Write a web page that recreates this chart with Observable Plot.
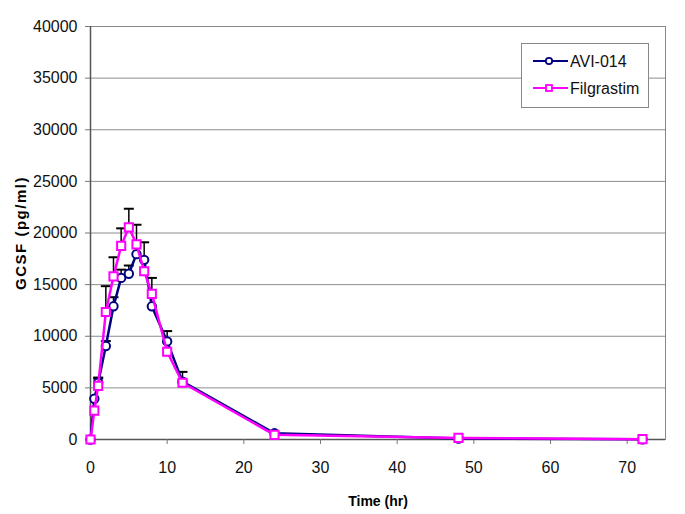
<!DOCTYPE html>
<html>
<head>
<meta charset="utf-8">
<script src="https://cdn.jsdelivr.net/npm/d3@7"></script>
<script src="https://cdn.jsdelivr.net/npm/@observablehq/plot@0.6"></script>
<style>
  body { margin: 0; background: #fff; }
  #chart svg { font-family: "Liberation Sans", Arial, sans-serif; }
  g[aria-label="x-axis label"] text { font-weight: bold; font-size: 14px; fill: #000; }
  g[aria-label="y-axis label"] text { font-weight: bold; font-size: 15px; letter-spacing: 1.5px; fill: #000; }
</style>
</head>
<body>
<div id="chart"></div>
<script>
const times = [0, 0.5, 1, 2, 3, 4, 5, 6, 7, 8, 10, 12, 24, 48, 72];
const avi014 = [0, 3950, 5500, 9050, 12900, 15650, 16050, 17950, 17400, 12900, 9500, 5600, 600, 100, 20];
const avi014Err = [0, 0, 500, 480, 880, 800, 800, 0, 1700, 0, 1000, 950, 0, 0, 0];
const filgrastim = [0, 2800, 5200, 12350, 15800, 18750, 20550, 18900, 16300, 14100, 8500, 5500, 450, 150, 30];
const filgrastimErr = [0, 0, 700, 2500, 1850, 1700, 1800, 1900, 0, 1550, 0, 0, 0, 0, 0];
const yTicks = [0, 5000, 10000, 15000, 20000, 25000, 30000, 35000, 40000];
const xTicks = [0, 10, 20, 30, 40, 50, 60, 70];
const seriesNames = ["AVI-014", "Filgrastim"];
const seriesColors = ["#000080", "#FF00FF"];

const aviData = times.map((t, i) => ({t, v: avi014[i], e: avi014Err[i]}));
const filData = times.map((t, i) => ({t, v: filgrastim[i], e: filgrastimErr[i]}));
const errData = [...aviData, ...filData].filter(d => d.e > 0);

const capSymbol = {
  draw(ctx, size) {
    const w = 5;
    ctx.moveTo(-w, 0);
    ctx.lineTo(w, 0);
  }
};

const chart = Plot.plot({
  width: 685,
  height: 514,
  marginLeft: 90,
  marginRight: 20,
  marginTop: 26,
  marginBottom: 75,
  style: {fontSize: "16px", fontFamily: "Liberation Sans, Arial, sans-serif", color: "#111"},
  x: {domain: [0, 75]},
  y: {domain: [0, 40000]},
  marks: [
    Plot.ruleY(yTicks.filter(d => d > 0), {stroke: "#8c8c8c", strokeWidth: 1}),
    Plot.frame({stroke: "#888", strokeWidth: 1}),
    Plot.ruleX([0], {stroke: "#555", strokeWidth: 1.5}),
    Plot.ruleY([0], {stroke: "#555", strokeWidth: 1.5}),
    Plot.axisX({ticks: xTicks, tickSize: 5, tickPadding: 17, stroke: "#777",
      label: "Time (hr)", labelAnchor: "center", labelArrow: "none", labelOffset: 66}),
    Plot.axisY({ticks: yTicks, tickSize: 5, tickPadding: 8, stroke: "#777", tickFormat: d => String(d),
      label: "GCSF (pg/ml)", labelAnchor: "center", labelArrow: "none", labelOffset: 75}),
    Plot.ruleX(errData, {x: "t", y1: "v", y2: d => d.v + d.e, stroke: "#000", strokeWidth: 1.5}),
    Plot.dot(errData, {x: "t", y: d => d.v + d.e, symbol: capSymbol, r: 5, stroke: "#000", strokeWidth: 2, fill: "none"}),
    Plot.line(aviData, {x: "t", y: "v", stroke: seriesColors[0], strokeWidth: 2.5}),
    Plot.dot(aviData, {x: "t", y: "v", symbol: "circle", r: 4.2, stroke: seriesColors[0], strokeWidth: 2, fill: "#fff"}),
    Plot.line(filData, {x: "t", y: "v", stroke: seriesColors[1], strokeWidth: 2.5}),
    Plot.dot(filData, {x: "t", y: "v", symbol: "square", r: 4.6, stroke: seriesColors[1], strokeWidth: 2, fill: "#fff"})
  ]
});

document.getElementById("chart").appendChild(chart);

// legend box inside the plot area
const svg = d3.select(chart);
const lg = svg.append("g").attr("class", "legend").attr("text-anchor", "start");
lg.append("rect").attr("x", 521.5).attr("y", 43.5).attr("width", 127).attr("height", 64)
  .attr("fill", "#fff").attr("stroke", "#888").attr("stroke-width", 1);
seriesNames.forEach((name, i) => {
  const cy = 61 + i * 27;
  lg.append("line").attr("x1", 533).attr("x2", 568).attr("y1", cy).attr("y2", cy)
    .attr("stroke", seriesColors[i]).attr("stroke-width", 2);
  if (i === 0) {
    lg.append("circle").attr("cx", 549).attr("cy", cy).attr("r", 3.2)
      .attr("fill", "#fff").attr("stroke", seriesColors[i]).attr("stroke-width", 1.8);
  } else {
    lg.append("rect").attr("x", 546).attr("y", cy - 3).attr("width", 6).attr("height", 6)
      .attr("fill", "#fff").attr("stroke", seriesColors[i]).attr("stroke-width", 1.8);
  }
  lg.append("text").attr("x", 570).attr("y", cy).attr("dy", "0.35em")
    .attr("font-size", 16).attr("fill", "#111").text(name);
});
</script>
</body>
</html>
